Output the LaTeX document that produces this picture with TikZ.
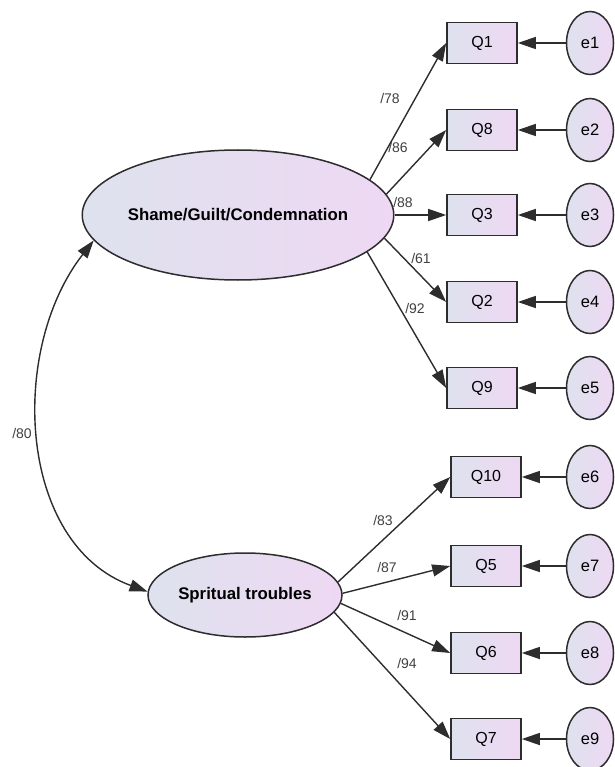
\documentclass[tikz,border=0pt]{standalone}
\usepackage{fontspec}
\setmainfont{Liberation Sans}
\usetikzlibrary{arrows.meta,shapes.geometric}

\definecolor{fillleft}{RGB}{222,226,238}
\definecolor{fillright}{RGB}{238,216,243}
\definecolor{lineclr}{RGB}{45,45,45}

\begin{document}
\begin{tikzpicture}[x=1pt,y=1pt,
 latent/.style={ellipse, draw=lineclr, line width=1.5pt, left color=fillleft, right color=fillright, inner sep=0pt, font=\fontsize{16.8}{18}\selectfont\bfseries},
 item/.style={rectangle, draw=lineclr, line width=1.6pt, left color=fillleft, right color=fillright, minimum width=70pt, minimum height=41pt, inner sep=0pt, font=\fontsize{16}{17}\selectfont},
 err/.style={ellipse, draw=lineclr, line width=1.5pt, left color=fillleft, right color=fillright, minimum width=47pt, minimum height=63pt, inner sep=0pt, font=\fontsize{16.5}{17}\selectfont},
 load/.style={draw=lineclr, line width=1.4pt, -{Triangle[length=18pt,width=12pt]}},
 coef/.style={font=\fontsize{14}{15}\selectfont, text=black!75, inner sep=1pt}]

 \useasboundingbox (0,0) rectangle (614,-767);

 % latent factors
 \node[latent, minimum width=281pt, minimum height=130pt] (shame) at (238,-215) {Shame/Guilt/Condemnation};
 \node[latent, minimum width=194pt, minimum height=84pt] (spirit) at (245,-595) {Spritual troubles};

 % observed items
 \node[item] (q1) at (482,-43) {Q1};
 \node[item] (q8) at (482,-130) {Q8};
 \node[item] (q3) at (482,-215) {Q3};
 \node[item] (q2) at (482,-302) {Q2};
 \node[item] (q9) at (482,-388) {Q9};

 \node[item] (q10) at (486,-477) {Q10};
 \node[item] (q5) at (486,-566) {Q5};
 \node[item] (q6) at (486,-653) {Q6};
 \node[item] (q7) at (486,-739) {Q7};

 % error terms
 \node[err] (e1) at (590,-43) {e1};
 \node[err] (e2) at (590,-130) {e2};
 \node[err] (e3) at (590,-215) {e3};
 \node[err] (e4) at (590,-302) {e4};
 \node[err] (e5) at (590,-388) {e5};
 \node[err] (e6) at (590,-477) {e6};
 \node[err] (e7) at (590,-566) {e7};
 \node[err] (e8) at (590,-653) {e8};
 \node[err] (e9) at (590,-739) {e9};

 % loadings
 \draw[load] (shame.15) -- (q1.west);
 \draw[load] (shame.8) -- (q8.west);
 \draw[load] (shame.east) -- (q3.west);
 \draw[load] (shame.-9) -- (q2.west);
 \draw[load] (shame.-16) -- (q9.west);

 \draw[load] (spirit.8) -- (q10.west);
 \draw[load] (spirit.1) -- (q5.west);
 \draw[load] (spirit.-5) -- (q6.west);
 \draw[load] (spirit.-11) -- (q7.west);

 \draw[load] (e1) -- (q1);
 \draw[load] (e2) -- (q8);
 \draw[load] (e3) -- (q3);
 \draw[load] (e4) -- (q2);
 \draw[load] (e5) -- (q9);
 \draw[load] (e6) -- (q10);
 \draw[load] (e7) -- (q5);
 \draw[load] (e8) -- (q6);
 \draw[load] (e9) -- (q7);

 % covariance
 \draw[load, {Triangle[length=18pt,width=12pt]}-{Triangle[length=18pt,width=12pt]}] (shame.190) to[out=232, in=160, looseness=1.0] (spirit.178);

 % coefficients
 \node[coef] (c1) at (390,-98) {/78};
 \node[coef] (c8) at (398,-147) {/86};
 \node[coef] (c3) at (403,-202) {/88};
 \node[coef] (c2) at (421,-258) {/61};
 \node[coef] (c9) at (415,-308) {/92};
 \node[coef] (c10) at (383,-520) {/83};
 \node[coef] (c5) at (387,-567) {/87};
 \node[coef] (c6) at (407,-615) {/91};
 \node[coef] (c7) at (407,-663) {/94};
 \node[coef] (cov) at (22,-433) {/80};

\end{tikzpicture}
\end{document}
